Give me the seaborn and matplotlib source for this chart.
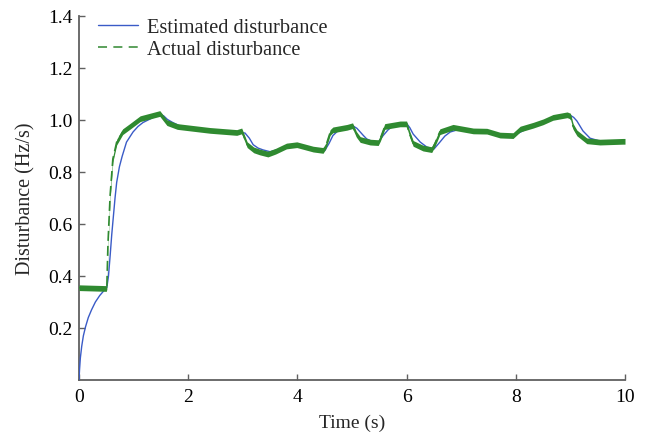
import numpy as np
import pandas as pd
import seaborn as sns
import matplotlib
matplotlib.use("Agg")
import matplotlib.pyplot as plt
from matplotlib.lines import Line2D

# ---- data ----
t_est = [0, 0.01, 0.025, 0.05, 0.08, 0.12, 0.17, 0.23, 0.3, 0.38, 0.45, 0.51,
         0.54, 0.57, 0.6, 0.63, 0.66, 0.69, 0.74, 0.79, 0.87, 0.99, 1.08, 1.17,
         1.36, 1.48, 1.55, 1.62, 1.72, 1.9, 2.4, 2.9, 3.04, 3.12, 3.19, 3.28, 3.37,
         3.5, 3.8, 4.0, 4.3, 4.5, 4.58, 4.65, 4.75, 4.84, 5.02, 5.09, 5.15, 5.21,
         5.27, 5.37, 5.48, 5.57, 5.66, 5.75, 5.88, 6.0, 6.06, 6.12, 6.25, 6.37, 6.5,
         6.61, 6.7, 6.8, 6.98, 7.22, 7.47, 7.71, 7.95, 8.1, 8.32, 8.5, 8.7, 9.0,
         9.06, 9.12, 9.23, 9.36, 9.54, 10.0]
v_est = [0.0, 0.04, 0.085, 0.13, 0.17, 0.205, 0.24, 0.27, 0.3, 0.325, 0.342, 0.356,
         0.40, 0.477, 0.56, 0.63, 0.70, 0.76, 0.82, 0.86, 0.915, 0.954, 0.975, 0.99,
         1.01, 1.022, 1.016, 1.002, 0.99, 0.972, 0.96, 0.952, 0.95, 0.93, 0.905, 0.892, 0.885,
         0.878, 0.895, 0.905, 0.89, 0.882, 0.91, 0.94, 0.96, 0.972, 0.977, 0.968, 0.954, 0.94,
         0.927, 0.918, 0.914, 0.94, 0.962, 0.977, 0.985, 0.987, 0.97, 0.946, 0.915, 0.896, 0.888,
         0.915, 0.938, 0.954, 0.965, 0.958, 0.956, 0.944, 0.94, 0.955, 0.978, 0.99, 1.008, 1.018,
         1.01, 0.996, 0.958, 0.93, 0.919, 0.919]

t_act = [0, 0.5, 0.51, 0.53, 0.57, 0.62, 0.69, 0.8, 0.93, 1.12, 1.3, 1.48, 1.61, 1.8,
         2.4, 2.89, 2.98, 3.08, 3.2, 3.31, 3.46, 3.6, 3.8, 3.99, 4.29, 4.47, 4.52, 4.6,
         4.65, 4.91, 5.01, 5.08, 5.15, 5.33, 5.48, 5.52, 5.6, 5.88, 6.0, 6.05, 6.12, 6.3,
         6.46, 6.52, 6.61, 6.85, 7.22, 7.47, 7.71, 7.95, 8.08, 8.32, 8.5, 8.68, 8.94, 9.0,
         9.05, 9.12, 9.3, 9.54, 9.96, 10.0]
v_act = [0.355, 0.352, 0.36, 0.52, 0.71, 0.85, 0.915, 0.955, 0.975, 1.005, 1.015, 1.025, 0.99, 0.975,
         0.96, 0.952, 0.958, 0.905, 0.885, 0.877, 0.869, 0.88, 0.9, 0.905, 0.888, 0.883, 0.9, 0.952,
         0.962, 0.972, 0.978, 0.945, 0.925, 0.915, 0.913, 0.93, 0.975, 0.985, 0.985, 0.95, 0.91, 0.892,
         0.886, 0.91, 0.955, 0.972, 0.958, 0.957, 0.942, 0.94, 0.965, 0.98, 0.993, 1.01, 1.02, 1.015,
         0.975, 0.95, 0.92, 0.915, 0.918, 0.918]

x_ticks = [0, 2, 4, 6, 8, 10]
y_ticks = [0.2, 0.4, 0.6, 0.8, 1.0, 1.2, 1.4]
labels = ["Estimated disturbance", "Actual disturbance"]

BLUE = "#3a5bc7"
GREEN = "#2f8a30"
SPINE = "#606060"

sns.set_style("ticks")
plt.rcParams["font.family"] = ["Liberation Serif", "DejaVu Serif"]
plt.rcParams["font.size"] = 14

fig = plt.figure(figsize=(6.46, 4.35), dpi=100)
ax = fig.add_axes([79 / 646, 1 - 381 / 435, 546 / 646, 364 / 435])

df_est = pd.DataFrame({"t": t_est, "v": v_est})
df_act = pd.DataFrame({"t": t_act, "v": v_act})

sns.lineplot(data=df_est, x="t", y="v", ax=ax, color=BLUE, linewidth=1.0, zorder=3)
# noise band of the measured signal
va = np.array(v_act)
ax.fill_between(t_act, va - 0.011, va + 0.011, color=GREEN, linewidth=0, zorder=4)
sns.lineplot(data=df_act, x="t", y="v", ax=ax, color=GREEN, linewidth=1.2,
             linestyle=(0, (6, 3)), zorder=5)

ax.set_xlim(0, 10)
ax.set_ylim(0, 1.4)
ax.set_xticks(x_ticks)
ax.set_xticklabels([str(v) for v in x_ticks])
ax.set_yticks(y_ticks)
ax.set_yticklabels([f"{v:.1f}" for v in y_ticks])
ax.set_xlabel("Time (s)", fontsize=14, labelpad=6)
ax.set_ylabel("Disturbance (Hz/s)", fontsize=14.5, labelpad=9.5)

for side in ["top", "right"]:
    ax.spines[side].set_visible(False)
for side in ["left", "bottom"]:
    ax.spines[side].set_color(SPINE)
    ax.spines[side].set_linewidth(1.3)
ax.tick_params(direction="in", length=4, width=1, color=SPINE, labelsize=14,
               labelcolor="black")
ax.tick_params(axis="x", pad=6)
ax.tick_params(axis="y", pad=4.5)

handles = [Line2D([], [], color=BLUE, linewidth=1.0),
           Line2D([], [], color="#4f9a4f", linewidth=1.3, linestyle=(0, (5, 3.5)))]
ax.legend(handles, labels, loc="upper left", bbox_to_anchor=(0.035, 0.995),
          frameon=False, borderpad=0, borderaxespad=0, handlelength=1.95,
          handletextpad=0.45, labelspacing=0.12, fontsize=14.7)

fig.savefig("out.png", dpi=100)
